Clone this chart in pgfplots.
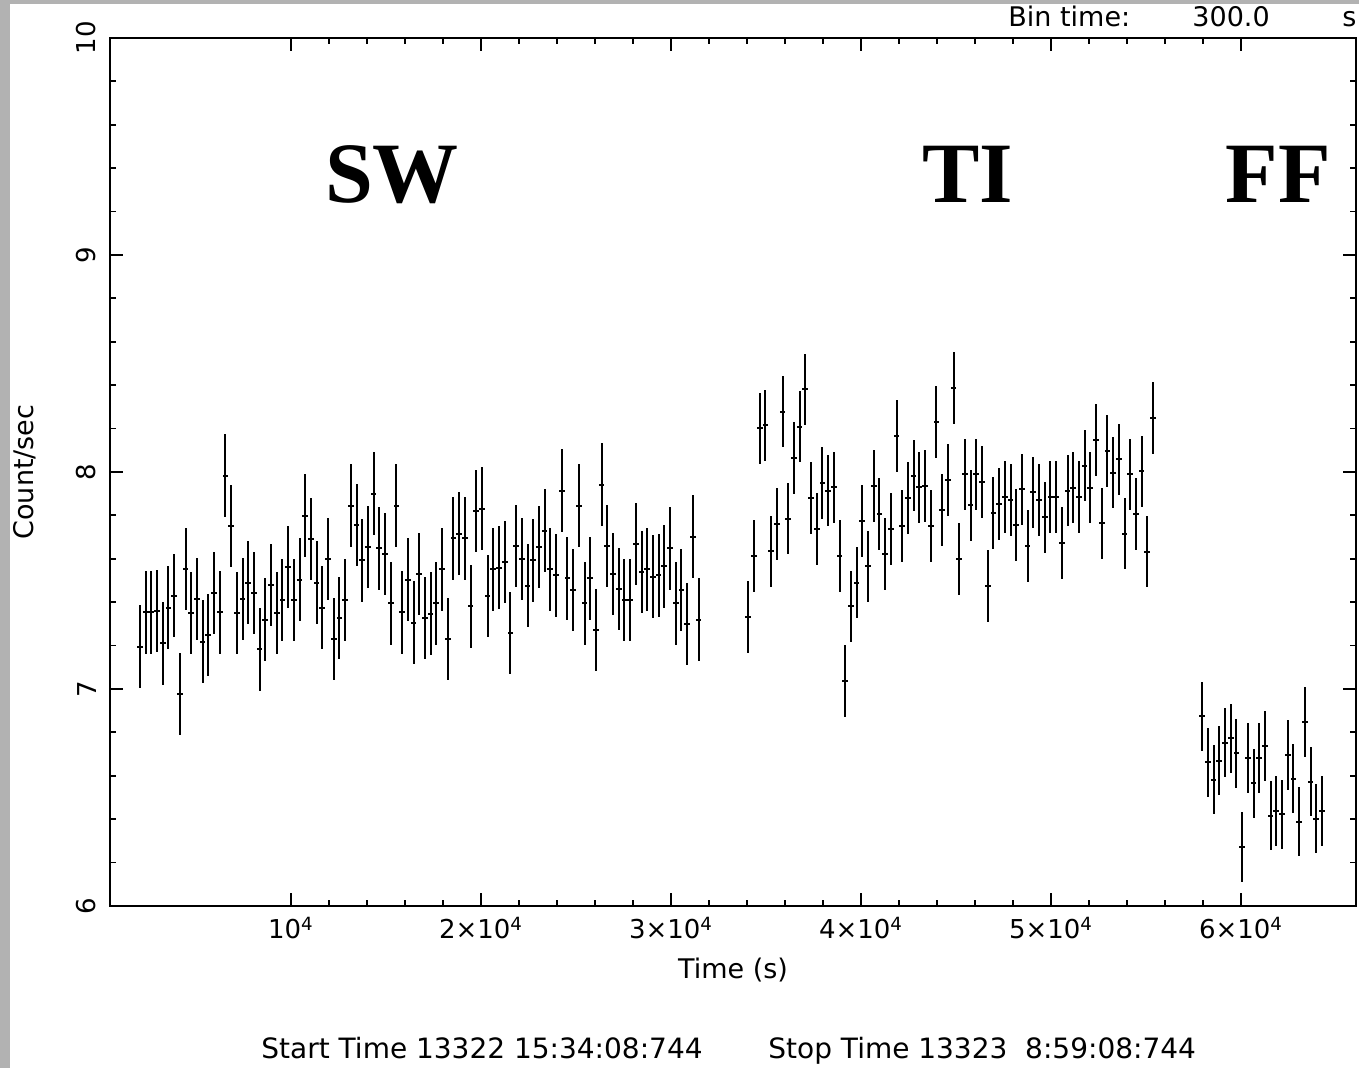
\documentclass[border=0pt]{standalone}
\usepackage{fontspec}
\setmainfont{DejaVu Sans}
\newfontfamily\bigserif{Liberation Serif}
\usepackage{pgfplots}
\usepackage{pgfplotstable}
\pgfplotsset{compat=1.18}

% light curve, 300 s bins: three instrument modes
\pgfplotstableread{
x y
2050 7.195
2350 7.353
2650 7.353
2950 7.359
3250 7.21
3550 7.375
3850 7.43
4150 6.977
4450 7.553
4750 7.349
5050 7.415
5350 7.218
5650 7.25
5950 7.442
6250 7.353
6550 7.983
6850 7.751
7150 7.349
7450 7.415
7750 7.49
8050 7.442
8350 7.183
8650 7.32
8950 7.478
9250 7.349
9550 7.409
9850 7.561
10150 7.409
10450 7.504
10750 7.799
11050 7.691
11350 7.49
11650 7.375
11950 7.599
12250 7.230
12550 7.326
12850 7.409
13150 7.845
13450 7.756
13750 7.593
14050 7.654
14350 7.9
14650 7.648
14950 7.621
15250 7.395
15550 7.845
15850 7.353
16150 7.504
16450 7.306
16750 7.531
17050 7.326
17350 7.347
17650 7.395
17950 7.551
18250 7.230
18550 7.694
18850 7.716
19150 7.694
19450 7.381
19750 7.819
20050 7.831
20350 7.429
20650 7.551
20950 7.559
21250 7.585
21550 7.258
21850 7.66
22150 7.599
22450 7.476
22750 7.593
23050 7.654
23350 7.730
23650 7.551
23950 7.524
24250 7.914
24550 7.51
24850 7.456
25150 7.845
25450 7.395
25750 7.51
26050 7.272
26350 7.942
26650 7.66
26950 7.531
27250 7.462
27550 7.409
27850 7.409
28150 7.668
28450 7.538
28750 7.551
29050 7.518
29350 7.524
29650 7.565
29950 7.648
30250 7.395
30550 7.456
30850 7.3
31150 7.702
31450 7.32
}\swdata

\pgfplotstableread{
x y
34070 7.333
34370 7.613
34670 8.201
34970 8.215
35270 7.634
35570 7.759
35870 8.278
36170 7.785
36470 8.065
36770 8.209
37070 8.381
37370 7.88
37670 7.737
37970 7.948
38270 7.914
38570 7.929
38870 7.613
39170 7.038
39470 7.381
39770 7.49
40070 7.775
40370 7.565
40670 7.935
40970 7.805
41270 7.621
41570 7.737
41870 8.167
42170 7.751
42470 7.88
42770 7.983
43070 7.929
43370 7.935
43670 7.751
43970 8.229
44270 7.826
44570 7.963
44870 8.386
45170 7.599
45470 7.989
45770 7.846
46070 7.989
46370 7.955
46670 7.476
46970 7.811
47270 7.853
47570 7.886
47870 7.872
48170 7.757
48470 7.920
48770 7.66
49070 7.906
49370 7.872
49670 7.791
49970 7.886
50270 7.886
50570 7.674
50870 7.914
51170 7.928
51470 7.886
51770 8.029
52070 7.928
52370 8.147
52670 7.763
52970 8.098
53270 7.997
53570 8.058
53870 7.716
54170 7.989
54470 7.805
54770 8.003
55070 7.633
55370 8.249
}\tidata

\pgfplotstableread{
x y
57960 6.874
58260 6.662
58560 6.582
58860 6.670
59160 6.753
59460 6.773
59760 6.704
60060 6.272
60360 6.682
60660 6.565
60960 6.682
61260 6.737
61560 6.416
61860 6.438
62160 6.422
62460 6.696
62760 6.587
63060 6.389
63360 6.847
63660 6.573
63960 6.402
64260 6.438
}\ffdata

\begin{document}
\begin{tikzpicture}[x=0.5pt,y=0.5pt]
\useasboundingbox (0,0) rectangle (1359,1068);
\fill[gray!60] (0,0) rectangle (10,1068);
\fill[gray!60] (0,1064) rectangle (1359,1068);

\begin{axis}[
    at={(55pt,81pt)}, anchor=south west,
    width=623pt, height=434pt, scale only axis,
    xmin=474, xmax=66053,
    ymin=6, ymax=10,
    scaled x ticks=false,
    xtick={10000,20000,30000,40000,50000,60000},
    xticklabels={10\textsuperscript{4},2×10\textsuperscript{4},3×10\textsuperscript{4},4×10\textsuperscript{4},5×10\textsuperscript{4},6×10\textsuperscript{4}},
    ytick={6,7,8,9,10},
    minor x tick num=4,
    minor y tick num=4,
    xtick pos=both, ytick pos=both,
    xticklabel pos=lower, yticklabel pos=left,
    major tick length=6.5pt, minor tick length=3pt,
    tick style={black, line width=0.9pt},
    axis line style={line width=1pt},
    /pgf/number format/assume math mode=true,
    ticklabel style={font=\fontsize{13}{15}\selectfont, inner sep=0pt, outer sep=0pt},
    yticklabel style={rotate=90, anchor=south},
    yticklabel shift=7pt,
    xticklabel style={anchor=north},
    xticklabel shift=5.5pt,
    xlabel={Time (s)},
    ylabel={Count/sec},
    label style={font=\fontsize{13.5}{16}\selectfont},
    xlabel style={at={(axis description cs:0.5,-0.0737)}, anchor=center},
    ylabel style={at={(axis description cs:-0.0682,0.5)}, anchor=center},
]

\addplot[draw=none, mark=none,
    error bars/.cd, x dir=both, x fixed=150, y dir=both, y fixed=0.19,
    error mark=none, error bar style={draw=black, line width=1pt}]
    table {\swdata};

\addplot[draw=none, mark=none,
    error bars/.cd, x dir=both, x fixed=150, y dir=both, y fixed=0.165,
    error mark=none, error bar style={draw=black, line width=1pt}]
    table {\tidata};

\addplot[draw=none, mark=none,
    error bars/.cd, x dir=both, x fixed=150, y dir=both, y fixed=0.16,
    error mark=none, error bar style={draw=black, line width=1pt}]
    table {\ffdata};

\node[anchor=base, font=\bigserif\bfseries\fontsize{43}{48}\selectfont] at (axis cs:15316,9.24) {SW};
\node[anchor=base, font=\bigserif\bfseries\fontsize{43}{48}\selectfont] at (axis cs:45632,9.24) {TI};
\node[anchor=base, font=\bigserif\bfseries\fontsize{43}{48}\selectfont] at (axis cs:61947,9.24) {FF};
\end{axis}

\begin{scope}[every node/.style={inner sep=0pt, font=\fontsize{13.5}{16}\selectfont}]
\node[anchor=base west] at (1008,1041) {Bin time:};
\node[anchor=base west] at (1192,1041) {300.0};
\node[anchor=base west] at (1342,1041) {s};
\node[anchor=base west, font=\fontsize{14}{16}\selectfont] at (261,9) {Start Time 13322 15:34:08:744};
\node[anchor=base west, font=\fontsize{14}{16}\selectfont] at (768,9) {Stop Time 13323\ \ 8:59:08:744};
\end{scope}
\end{tikzpicture}
\end{document}
